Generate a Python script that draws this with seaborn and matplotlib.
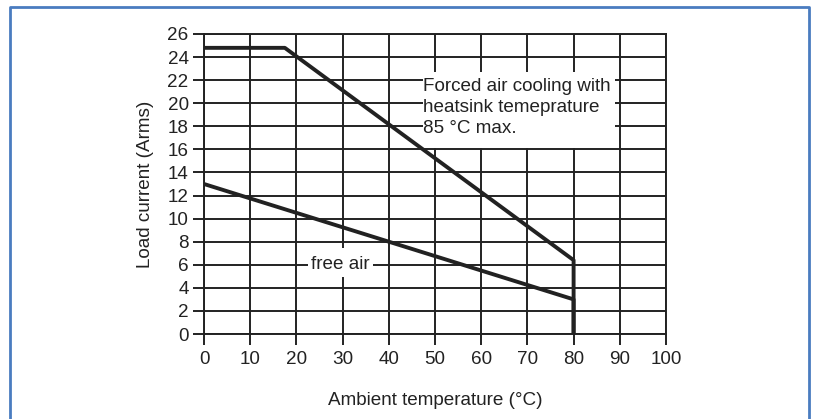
import matplotlib
matplotlib.use("Agg")
import matplotlib.pyplot as plt
import seaborn as sns
import pandas as pd
from matplotlib.lines import Line2D
from matplotlib.patches import Rectangle

sns.set_theme(style="white")
plt.rcParams['font.family'] = ['Liberation Sans', 'DejaVu Sans']

# Data
forced_temp = [0, 17.5, 80, 80]
forced_current = [24.8, 24.8, 6.4, 0]
free_temp = [0, 80, 80]
free_current = [13, 3, 0]
x_ticks = [0, 10, 20, 30, 40, 50, 60, 70, 80, 90, 100]
y_ticks = [0, 2, 4, 6, 8, 10, 12, 14, 16, 18, 20, 22, 24, 26]

df = pd.concat([
    pd.DataFrame({"temp": forced_temp, "current": forced_current, "series": "forced"}),
    pd.DataFrame({"temp": free_temp, "current": free_current, "series": "free"}),
], ignore_index=True)

dark = "#222222"
fs = 13.6
fig = plt.figure(figsize=(8.18, 4.19), dpi=100)
fig.patch.set_facecolor("white")
ax = fig.add_axes([204/818, 1-334/419, (666-204)/818, (334-34)/419])

ax.set_xlim(0, 100)
ax.set_ylim(0, 26)
ax.set_xticks(x_ticks)
ax.set_yticks(y_ticks)
ax.grid(True, color=dark, linewidth=1.4)
ax.set_axisbelow(True)
for s in ax.spines.values():
    s.set_color(dark)
    s.set_linewidth(1.4)
ax.tick_params(axis="both", direction="out", length=8, width=1.4, color=dark,
               labelsize=fs, labelcolor=dark, left=True, bottom=True)
ax.tick_params(axis="y", pad=3)
ax.tick_params(axis="x", pad=4.5)

sns.lineplot(data=df, x="temp", y="current", units="series", estimator=None,
             sort=False, color=dark, linewidth=2.8, ax=ax, legend=False, zorder=3)

ax.set_xlabel("Ambient temperature (°C)", fontsize=fs, color=dark, labelpad=17)
ax.set_ylabel("Load current (Arms)", fontsize=fs, color=dark, labelpad=10)

# white label backgrounds
ax.add_patch(Rectangle((47.4, 16.1), 41.6, 6.6, facecolor="white", edgecolor="none", zorder=1))
ax.add_patch(Rectangle((22.5, 4.95), 14.1, 2.5, facecolor="white", edgecolor="none", zorder=1))

ax.text(47.5, 19.65, "Forced air cooling with\nheatsink temeprature\n85 °C max.",
        fontsize=fs, color=dark, ha="left", va="center", linespacing=1.32, zorder=4)
ax.text(29.6, 6.0, "free air", fontsize=fs, color=dark, ha="center", va="center", zorder=4)

# blue frame (left, top, right)
fc = "#4a7cc0"
x0, x1, y1 = 10/818, 809/818, 1-7.5/419
fig.add_artist(Line2D([x0, x0, x1, x1], [-0.02, y1, y1, -0.02],
                      transform=fig.transFigure, color=fc, linewidth=2))

fig.savefig("out.png", dpi=100, facecolor="white")
